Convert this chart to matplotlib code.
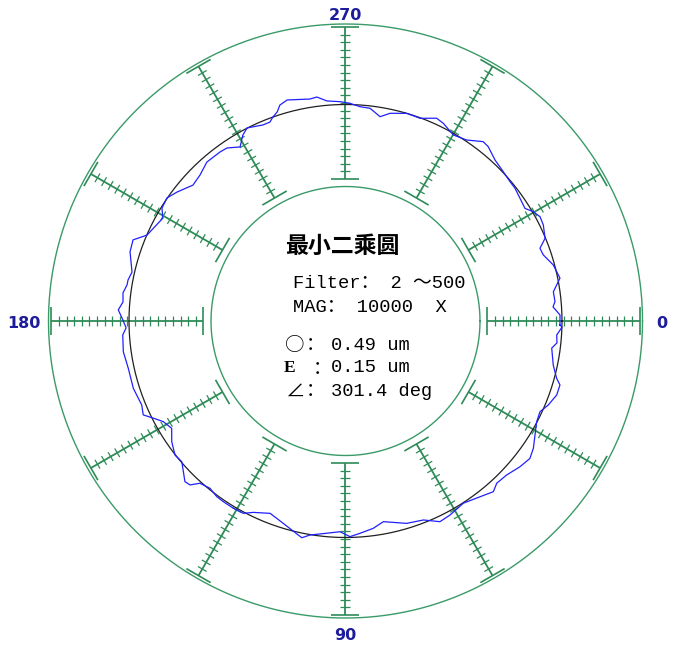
import numpy as np
import matplotlib
matplotlib.use("Agg")
import matplotlib.pyplot as plt
from matplotlib.collections import LineCollection

# measured profile (angle in deg, clockwise from right; radius in plot px)
prof_angle = [1.1, 1.6, 3.8, 5.9, 7.5, 12.0, 15.2, 16.6, 19.3, 22.5, 25.0, 27.8,
              31.0, 34.1, 36.7, 39.9, 43.7, 47.0, 49.1, 52.6, 57.1, 61.7, 64.8,
              68.6, 73.2, 79.3, 82.4, 86.1, 88.8, 91.5, 95.1, 99.4, 101.4, 104.4,
              109.2, 111.4, 115.7, 118.0, 120.9, 124.1, 126.2, 129.0, 131.9, 133.5,
              135.0, 139.3, 141.8, 145.2, 148.3, 151.1, 153.2, 155.1, 157.6, 162.4,
              167.7, 172.1, 176.4, 178.2, 180.5, 182.8, 184.9, 187.2, 189.4, 190.7,
              192.9, 197.8, 200.9, 203.4, 209.4, 211.6, 214.6, 217.4, 221.7, 225.1,
              228.9, 233.4, 235.6, 238.8, 241.1, 243.0, 247.2, 249.2, 250.4, 251.9,
              253.1, 255.2, 260.9, 262.7, 265.2, 268.6, 271.2, 273.9, 276.6, 279.6,
              282.1, 286.4, 290.2, 294.2, 296.3, 300.1, 303.8, 307.5, 309.3, 312.9,
              316.6, 319.7, 321.9, 324.9, 327.9, 329.8, 331.8, 334.1, 337.5, 339.5,
              341.5, 344.9, 348.7, 352.0, 354.7, 356.1, 358.4]
prof_radius = [214.5, 216.6, 211.7, 212.6, 208.0, 212.4, 218.8, 223.8, 223.8, 219.5,
               214.6, 216.1, 221.1, 226.9, 230.0, 227.3, 222.9, 221.8, 225.8, 221.3,
               217.0, 220.4, 221.8, 213.7, 211.4, 204.2, 209.2, 212.8, 215.7, 210.8,
               213.1, 216.9, 221.1, 215.8, 209.0, 206.6, 212.4, 217.8, 218.3, 218.1,
               217.8, 215.3, 218.0, 226.0, 227.1, 215.9, 216.9, 211.6, 204.3, 208.2,
               215.4, 223.0, 220.4, 222.6, 222.3, 224.3, 223.2, 219.5, 223.0, 227.5,
               223.3, 224.3, 221.4, 221.3, 219.0, 226.3, 227.4, 216.3, 209.6, 215.5,
               216.8, 212.2, 204.3, 206.1, 210.9, 210.5, 209.7, 203.5, 212.4, 216.7,
               212.7, 212.8, 216.5, 219.9, 225.7, 228.6, 224.8, 225.8, 220.8, 219.4,
               217.7, 214.8, 214.1, 207.2, 212.4, 216.5, 216.0, 222.3, 220.6, 215.0,
               217.8, 226.1, 225.3, 219.7, 217.2, 215.6, 215.3, 213.3, 211.9, 217.3,
               220.7, 219.9, 216.0, 207.6, 208.5, 215.2, 218.7, 209.9, 210.4, 208.0,
               214.6]
fit_radius = 216.5

spoke_angles = [0, 30, 60, 90, 120, 150, 180, 210, 240, 270, 300, 330]
axis_labels = ['0', '90', '180', '270']
axis_label_angles = [0, 90, 180, 270]
axis_label_r = [316, 313, 322, 307]

title = '最小二乘圆'
info_lines = ['Filter： 2 ～500', 'MAG： 10000  X']
result_symbols = ['○', 'E', '∠']
result_values = ['0.49 um', '0.15 um', '301.4 deg']

W, H = 681, 648
cx, cy = 345.5, 321
green = '#2e8b57'

fig = plt.figure(figsize=(W / 100, H / 100), dpi=100)
ax = fig.add_axes([0, 0, 1, 1])
ax.set_xlim(-cx, W - cx)
ax.set_ylim(H - cy, -cy)
ax.set_aspect('equal')
ax.axis('off')

t = np.linspace(0, 2 * np.pi, 721)
ax.plot(297 * np.cos(t), 297 * np.sin(t), color='#3a9a68', lw=1.0)
ax.plot(134.5 * np.cos(t), 134.5 * np.sin(t), color='#3a9a68', lw=1.0)

# spokes with ticks
r0, r1 = 142, 294
spokes, ticks, caps = [], [], []
for a in np.radians(spoke_angles):
    u = np.array([np.cos(a), np.sin(a)])
    p = np.array([-np.sin(a), np.cos(a)])
    spokes.append([r0 * u, r1 * u])
    for k in range(1, 20):
        r = r0 + k * (r1 - r0) / 20
        ticks.append([r * u - 5 * p, r * u + 5 * p])
    for r in (r0, r1):
        caps.append([r * u - 14 * p, r * u + 14 * p])
ax.add_collection(LineCollection(spokes, colors=green, linewidths=1.3))
ax.add_collection(LineCollection(ticks, colors=green, linewidths=0.9))
ax.add_collection(LineCollection(caps, colors=green, linewidths=1.2))

# best fit circle and profile
ax.plot(fit_radius * np.cos(t), fit_radius * np.sin(t), color='#202020', lw=0.9)
ang = np.radians(prof_angle + [prof_angle[0] + 360])
rad = np.array(prof_radius + [prof_radius[0]])
ax.plot(rad * np.cos(ang), rad * np.sin(ang), color='#2020ff', lw=0.9)

for lab, a, r in zip(axis_labels, axis_label_angles, axis_label_r):
    a = np.radians(a)
    ax.text(r * np.cos(a), r * np.sin(a) + 2, lab, color='#1c1c9c', fontsize=11.5,
            fontweight='bold', ha='center', va='center', family='DejaVu Sans')

mono = ['Liberation Mono', 'Noto Sans CJK SC', 'DejaVu Sans']
cjk = ['Noto Sans CJK SC', 'DejaVu Sans']
ax.text(285 - cx, 246 - cy, title, fontsize=16.5, fontweight='bold',
        family=cjk, ha='left', va='center')
for i, s in enumerate(info_lines):
    ax.text(293 - cx, 284 + 23 * i - cy, s, fontsize=13.5, family=mono,
            ha='left', va='center')

colon_x = [306, 313, 306]
for i, (sym, val) in enumerate(zip(result_symbols, result_values)):
    y = 345 + 23 * i - cy
    if sym == 'E':
        ax.text(284 - cx, y, sym, fontsize=12.5, family=['Liberation Serif'],
                fontweight='bold', ha='left', va='center')
    else:
        ax.text(285 - cx, y, sym, fontsize=14, family=cjk, ha='left', va='center')
    ax.text(colon_x[i] - cx, y, '：', fontsize=13.5, family=cjk, ha='left', va='center')
    ax.text(331 - cx, y, val, fontsize=13.5, family=mono, ha='left', va='center')

fig.savefig('out.png', dpi=100)
